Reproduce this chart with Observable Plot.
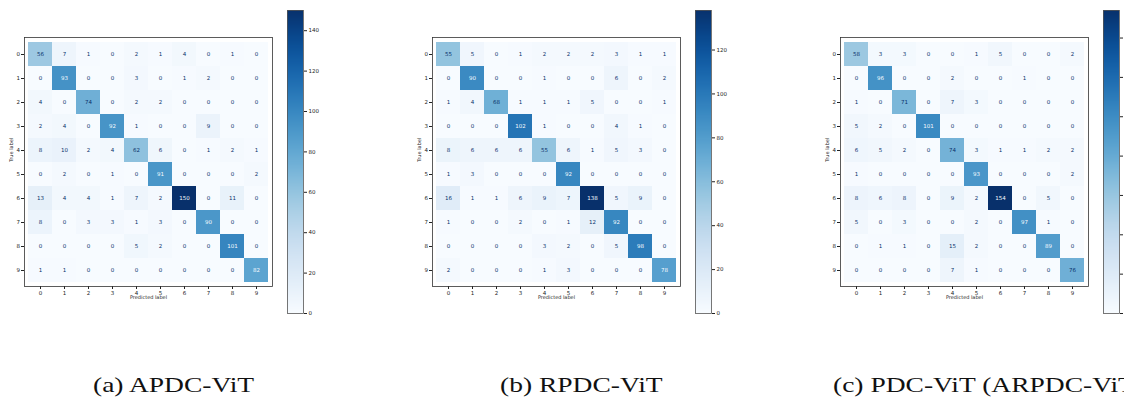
<!DOCTYPE html>
<html>
<head>
<meta charset="utf-8">
<script src="https://cdn.jsdelivr.net/npm/d3@7"></script>
<script src="https://cdn.jsdelivr.net/npm/@observablehq/plot@0.6"></script>
<style>
  html, body { margin: 0; padding: 0; background: #fff; }
  #root { position: relative; width: 1124px; height: 402px; overflow: hidden; background: #fff; }
  .panel { position: absolute; top: 0; }
  .caption { position: absolute; top: 375px; font-family: "Liberation Serif", serif; font-size: 21px; line-height: 1; color: #111; white-space: nowrap; transform-origin: left top; transform: scaleX(1.31); }
</style>
</head>
<body>
<div id="root"></div>
<script>
const classes = [0, 1, 2, 3, 4, 5, 6, 7, 8, 9];

const apdc = [
  [56, 7, 1, 0, 2, 1, 4, 0, 1, 0],
  [0, 93, 0, 0, 3, 0, 1, 2, 0, 0],
  [4, 0, 74, 0, 2, 2, 0, 0, 0, 0],
  [2, 4, 0, 92, 1, 0, 0, 9, 0, 0],
  [8, 10, 2, 4, 62, 6, 0, 1, 2, 1],
  [0, 2, 0, 1, 0, 91, 0, 0, 0, 2],
  [13, 4, 4, 1, 7, 2, 150, 0, 11, 0],
  [8, 0, 3, 3, 1, 3, 0, 90, 0, 0],
  [0, 0, 0, 0, 5, 2, 0, 0, 101, 0],
  [1, 1, 0, 0, 0, 0, 0, 0, 0, 82]
];

const rpdc = [
  [55, 5, 0, 1, 2, 2, 2, 3, 1, 1],
  [0, 90, 0, 0, 1, 0, 0, 6, 0, 2],
  [1, 4, 68, 1, 1, 1, 5, 0, 0, 1],
  [0, 0, 0, 102, 1, 0, 0, 4, 1, 0],
  [8, 6, 6, 6, 55, 6, 1, 5, 3, 0],
  [1, 3, 0, 0, 0, 92, 0, 0, 0, 0],
  [16, 1, 1, 6, 9, 7, 138, 5, 9, 0],
  [1, 0, 0, 2, 0, 1, 12, 92, 0, 0],
  [0, 0, 0, 0, 3, 2, 0, 5, 98, 0],
  [2, 0, 0, 0, 1, 3, 0, 0, 0, 78]
];

const pdc = [
  [58, 3, 3, 0, 0, 1, 5, 0, 0, 2],
  [0, 96, 0, 0, 2, 0, 0, 1, 0, 0],
  [1, 0, 71, 0, 7, 3, 0, 0, 0, 0],
  [5, 2, 0, 101, 0, 0, 0, 0, 0, 0],
  [6, 5, 2, 0, 74, 3, 1, 1, 2, 2],
  [1, 0, 0, 0, 0, 93, 0, 0, 0, 2],
  [8, 6, 8, 0, 9, 2, 154, 0, 5, 0],
  [5, 0, 3, 0, 0, 2, 0, 97, 1, 0],
  [0, 1, 1, 0, 15, 2, 0, 0, 89, 0],
  [0, 0, 0, 0, 7, 1, 0, 0, 0, 76]
];

const cbTicksA = [0, 20, 40, 60, 80, 100, 120, 140];
const cbTicksB = [0, 20, 40, 60, 80, 100, 120];
const cbTicksC = [0, 20, 40, 60, 80, 100, 120, 140];

const captions = ["(a) APDC-ViT", "(b) RPDC-ViT", "(c) PDC-ViT (ARPDC-ViT)"];

const panels = [
  {m: apdc, ticks: cbTicksA, caption: captions[0]},
  {m: rpdc, ticks: cbTicksB, caption: captions[1]},
  {m: pdc, ticks: cbTicksC, caption: captions[2]}
];

const root = document.getElementById("root");
const FONT = "DejaVu Sans";

function matrixPlot(m) {
  const flat = m.flat();
  const max = d3.max(flat), min = d3.min(flat);
  const thresh = (max + min) / 2;
  const cells = [];
  m.forEach((row, i) => row.forEach((v, j) => cells.push({t: classes[i], p: classes[j], v})));
  return Plot.plot({
    width: 285, height: 310,
    marginLeft: 24, marginRight: 13, marginTop: 37, marginBottom: 24,
    style: {fontFamily: FONT, fontSize: "5.5px", color: "#222", background: "transparent"},
    x: {type: "band", domain: classes, padding: 0, tickSize: 3, tickPadding: 1.5, label: null, axis: "bottom"},
    y: {type: "band", domain: classes, padding: 0, tickSize: 3, tickPadding: 1.5, label: null, axis: "left"},
    color: {type: "linear", scheme: "blues", domain: [min, max]},
    marks: [
      Plot.cell(cells, {x: "p", y: "t", fill: "v", inset: 0, shapeRendering: "crispEdges"}),
      Plot.text(cells.filter(d => d.v < thresh), {x: "p", y: "t", text: d => String(d.v), fill: "#08306b", fontSize: 5.5}),
      Plot.text(cells.filter(d => d.v >= thresh), {x: "p", y: "t", text: d => String(d.v), fill: "#f7fbff", fontSize: 5.5}),
      Plot.frame({stroke: "#333", strokeWidth: 0.8}),
      Plot.text(["True label"], {text: d => d, frameAnchor: "left", dx: -13, rotate: -90, fontSize: 5, fill: "#222"}),
      Plot.text(["Predicted label"], {text: d => d, frameAnchor: "bottom", dy: 12.5, fontSize: 5, fill: "#222"})
    ]
  });
}

function colorbar(m, ticks) {
  const flat = m.flat();
  const max = d3.max(flat), min = d3.min(flat);
  const step = 0.5;
  const stops = d3.range(min, max, step);
  return Plot.plot({
    width: 60, height: 320,
    marginLeft: 17, marginRight: 27, marginTop: 10, marginBottom: 7,
    style: {fontFamily: FONT, fontSize: "5.5px", color: "#222", background: "transparent"},
    x: {domain: [0, 1], axis: null},
    y: {domain: [min, max], ticks: ticks, tickSize: 3, tickPadding: 2, axis: "right", label: null},
    color: {type: "linear", scheme: "blues", domain: [min, max]},
    marks: [
      Plot.rect(stops, {x1: 0, x2: 1, y1: d => d, y2: d => Math.min(d + step, max), fill: d => d, shapeRendering: "crispEdges"}),
      Plot.frame({stroke: "#555", strokeWidth: 0.8})
    ]
  });
}

const captionLeft = [93, 500, 833];
panels.forEach((p, i) => {
  const ox = 408 * i;
  const mp = matrixPlot(p.m);
  mp.classList.add("panel");
  mp.style.left = ox + "px";
  root.appendChild(mp);
  const cb = colorbar(p.m, p.ticks);
  cb.classList.add("panel");
  cb.style.left = (ox + 270) + "px";
  root.appendChild(cb);
  const cap = document.createElement("div");
  cap.className = "caption";
  cap.textContent = p.caption;
  cap.style.left = captionLeft[i] + "px";
  root.appendChild(cap);
});
</script>
</body>
</html>
